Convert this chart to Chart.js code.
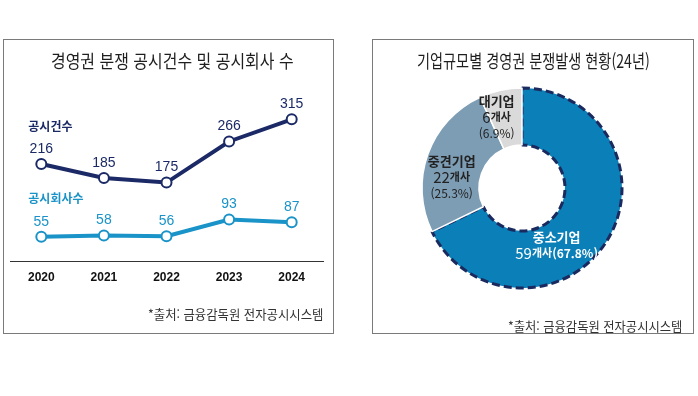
<!DOCTYPE html>
<html lang="ko">
<head>
<meta charset="utf-8">
<script src="https://cdn.jsdelivr.net/npm/chart.js@4.4.1/dist/chart.umd.min.js"></script>
<style>
body { margin:0; width:698px; height:396px; background:#fff; position:relative; overflow:hidden; font-family:"Noto Sans CJK KR", "Noto Sans", sans-serif; }
.panel { position:absolute; border:1px solid #7a7a7a; box-sizing:border-box; }
#p1 { left:3px; top:39px; width:331px; height:295px; }
#p2 { left:372px; top:39px; width:322px; height:295px; }
.txt { position:absolute; white-space:nowrap; line-height:1; }
.title { color:#1e1e1e; font-size:18px; }
.src { color:#333; font-size:13px; }
canvas { position:absolute; }
#c1 { left:0; top:0; }
#c2 { left:360px; top:0; }
</style>
</head>
<body>
<div class="panel" id="p1"></div>
<div class="panel" id="p2"></div>
<canvas id="c1" width="340" height="340"></canvas>
<canvas id="c2" width="338" height="340"></canvas>
<div class="txt title" id="t1" data-cx="172" data-cy="60" data-w="243">경영권 분쟁 공시건수 및 공시회사 수</div>
<div class="txt title" id="t2" data-cx="533" data-cy="60" data-w="233">기업규모별 경영권 분쟁발생 현황(24년)</div>
<div class="txt src" id="s1" data-rx="323" data-cy="313" data-w="175">*출처: 금융감독원 전자공시시스템</div>
<div class="txt src" id="s2" data-rx="682" data-cy="325" data-w="174">*출처: 금융감독원 전자공시시스템</div>
<script>
// 연도별 공시건수 / 공시회사수
const years = ['2020', '2021', '2022', '2023', '2024'];
const filings = [216, 185, 175, 266, 315];
const companies = [55, 58, 56, 93, 87];

// 기업규모별 (24년)
const sizeLabels = ['중소기업', '중견기업', '대기업'];
const sizeCounts = [59, 22, 6];
const sizeShares = [67.8, 25.3, 6.9];

const NAVY = '#1b2a66';
const CYAN = '#1a93c8';
const KR = '"Noto Sans CJK KR", sans-serif';
const NUM = '"Liberation Sans", Arial, sans-serif';

// 제목, 출처 글자 폭 맞추기
document.querySelectorAll('.txt').forEach(el => {
  const w = el.offsetWidth, h = el.offsetHeight;
  const k = (+el.dataset.w) / w;
  el.style.transformOrigin = '0 0';
  el.style.transform = 'scaleX(' + k + ')';
  const left = el.dataset.cx ? (+el.dataset.cx - w * k / 2) : (+el.dataset.rx - w * k);
  el.style.left = left + 'px';
  el.style.top = (+el.dataset.cy - h / 2) + 'px';
});

const lineLabels = {
  id: 'lineLabels',
  afterDatasetsDraw(chart) {
    const ctx = chart.ctx;
    chart.data.datasets.forEach((ds, i) => {
      const pts = chart.getDatasetMeta(i).data;
      ctx.save();
      ctx.fillStyle = ds.borderColor;
      ctx.textAlign = 'center';
      ctx.textBaseline = 'middle';
      ctx.font = '14px ' + NUM;
      pts.forEach((p, j) => ctx.fillText(ds.data[j], p.x, p.y - 15));
      // 시리즈 이름
      ctx.textAlign = 'left';
      ctx.font = 'bold 12px ' + KR;
      ctx.fillText(ds.label, pts[0].x - 13, pts[0].y - 38);
      ctx.restore();
    });
  }
};

new Chart(document.getElementById('c1'), {
  type: 'line',
  data: {
    labels: years,
    datasets: [
      { label: '공시건수', data: filings, borderColor: NAVY, borderWidth: 4,
        pointRadius: 5, pointBorderWidth: 2, pointBackgroundColor: '#fff', pointBorderColor: NAVY },
      { label: '공시회사수', data: companies, borderColor: CYAN, borderWidth: 4,
        pointRadius: 5, pointBorderWidth: 2, pointBackgroundColor: '#fff', pointBorderColor: CYAN }
    ]
  },
  options: {
    responsive: false,
    animation: false,
    events: [],
    layout: { padding: { left: 10, right: 17, top: 99, bottom: 46 } },
    plugins: { legend: { display: false }, tooltip: { enabled: false } },
    scales: {
      x: {
        offset: true,
        grid: { display: false, drawTicks: false },
        border: { display: true, color: '#333', width: 1 },
        ticks: { padding: 9, color: '#111', font: { family: NUM, size: 12, weight: 'bold' } }
      },
      y: { display: false, min: 0, max: 360 }
    }
  },
  plugins: [lineLabels]
});

// 라벨 배치 (조각 중심 기준 이동량)
const donutLayout = [
  { dx: -26, dy: 19, color: '#fff', inline: true },
  { dx: -3, dy: 13, color: '#222', inline: false },
  { dx: -10, dy: -1, color: '#222', inline: false }
];

const donutLabels = {
  id: 'donutLabels',
  afterDatasetsDraw(chart) {
    const ctx = chart.ctx;
    const arcs = chart.getDatasetMeta(0).data;
    const drawRich = (segs, cx, cy) => {
      let total = 0;
      segs.forEach(s => { ctx.font = s.f; s.w = ctx.measureText(s.t).width; total += s.w; });
      let x = cx - total / 2;
      segs.forEach(s => { ctx.font = s.f; ctx.fillText(s.t, x, cy); x += s.w; });
    };
    ctx.save();
    ctx.textAlign = 'left';
    ctx.textBaseline = 'middle';
    arcs.forEach((arc, i) => {
      const L = donutLayout[i];
      const c = arc.getCenterPoint();
      const cx = c.x + L.dx, cy = c.y + L.dy;
      ctx.fillStyle = L.color;
      const name = [{ t: sizeLabels[i], f: 'bold 13px ' + KR }];
      const cnt = [{ t: String(sizeCounts[i]), f: '15px ' + KR }, { t: '개사', f: 'bold 11px ' + KR }];
      const pct = [{ t: '(' + sizeShares[i] + '%)', f: (L.inline ? 'bold 12px ' : '12px ') + KR }];
      if (L.inline) {
        drawRich(name, cx, cy - 8);
        drawRich(cnt.concat(pct), cx, cy + 8);
      } else {
        drawRich(name, cx, cy - 16);
        drawRich(cnt, cx, cy);
        drawRich(pct, cx, cy + 16);
      }
    });
    ctx.restore();
  }
};

new Chart(document.getElementById('c2'), {
  type: 'doughnut',
  data: {
    labels: sizeLabels,
    datasets: [{
      data: sizeCounts,
      backgroundColor: ['#0b7fb7', '#7d9db4', '#dadada'],
      borderColor: ['#1b2a5e', '#ffffff', '#ffffff'],
      borderWidth: [3, 1.5, 1.5],
      borderDash: ctx => ctx.dataIndex === 0 ? [8, 4] : []
    }]
  },
  options: {
    responsive: false,
    animation: false,
    events: [],
    cutout: '43%',
    layout: { padding: { left: 60.5, right: 74.5, top: 86.5, bottom: 50.5 } },
    plugins: { legend: { display: false }, tooltip: { enabled: false } }
  },
  plugins: [donutLabels]
});
</script>
</body>
</html>
